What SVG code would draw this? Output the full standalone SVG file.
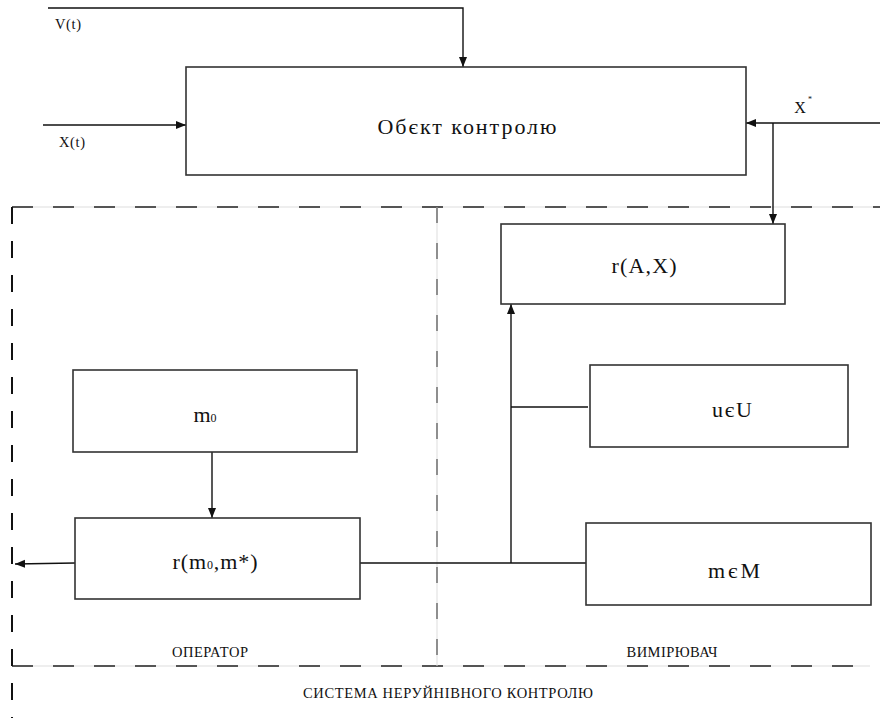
<svg xmlns="http://www.w3.org/2000/svg" width="880" height="718" viewBox="0 0 880 718">
<style>
.box{fill:#fff;stroke:#333;stroke-width:1.6}
.ln{fill:none;stroke:#111;stroke-width:1.4}
text{font-family:"Liberation Serif","Times New Roman","DejaVu Serif",serif;fill:#111;text-anchor:middle}
.big{font-size:22px}
.sm{font-size:14.5px}
.faint{stroke:#ddd;stroke-width:1;fill:none}
.dash{stroke:#555;stroke-width:2;stroke-dasharray:21 20;fill:none}
.vdash{stroke:#111;stroke-width:2;stroke-dasharray:17 17;fill:none}
.mid{stroke:#777;stroke-width:1.6;stroke-dasharray:16 20;fill:none}
</style>
<defs>
<marker id="ah" viewBox="0 0 10 10" refX="10" refY="5" markerWidth="10" markerHeight="10" markerUnits="userSpaceOnUse" orient="auto">
<path d="M0,1 L10,5 L0,9 z" fill="#111"/>
</marker>
</defs>
<rect width="880" height="718" fill="#fff"/>
<g id="frame">
<line class="faint" x1="12" y1="207" x2="880" y2="207"/>
<line class="dash" x1="12" y1="207" x2="880" y2="207"/>
<line class="faint" x1="12" y1="666" x2="870" y2="666"/>
<line class="dash" x1="12" y1="666" x2="870" y2="666"/>
<line class="vdash" x1="12" y1="207" x2="12" y2="718"/>
<line class="faint" x1="437" y1="207" x2="437" y2="666"/>
<line class="mid" x1="437" y1="207" x2="437" y2="666"/>
<text class="sm" x="210" y="657" textLength="76" lengthAdjust="spacing">ОПЕРАТОР</text>
<text class="sm" x="672" y="657" textLength="91" lengthAdjust="spacing">ВИМІРЮВАЧ</text>
<text class="sm" x="448" y="698" textLength="290" lengthAdjust="spacing">СИСТЕМА НЕРУЙНІВНОГО КОНТРОЛЮ</text>
</g>
<g id="connectors">
<polyline class="ln" points="48,8 463,8 463,67" marker-end="url(#ah)"/>
<line class="ln" x1="43" y1="125" x2="186" y2="125" marker-end="url(#ah)"/>
<line class="ln" x1="880" y1="123" x2="746" y2="123" marker-end="url(#ah)"/>
<line class="ln" x1="773" y1="123" x2="773" y2="224" marker-end="url(#ah)"/>
<line class="ln" x1="212" y1="452" x2="212" y2="518" marker-end="url(#ah)"/>
<line class="ln" x1="75" y1="563" x2="15" y2="564" marker-end="url(#ah)"/>
<line class="ln" x1="360" y1="563" x2="586" y2="563"/>
<line class="ln" x1="511" y1="563" x2="511" y2="304" marker-end="url(#ah)"/>
<line class="ln" x1="511" y1="407" x2="588" y2="407"/>
<text class="sm" x="68" y="29" textLength="26" lengthAdjust="spacing">V(t)</text>
<text class="sm" x="72" y="147" textLength="26" lengthAdjust="spacing">X(t)</text>
<text font-size="16" x="800" y="113">X</text>
<text font-size="8" x="810" y="102">*</text>
</g>
<g id="obj">
<rect class="box" x="186" y="67" width="560" height="108"/>
<text class="big" x="467" y="134" textLength="179" lengthAdjust="spacing">Обєкт контролю</text>
</g>
<g id="rax">
<rect class="box" x="501" y="224" width="284" height="80"/>
<text class="big" x="644" y="273" textLength="65" lengthAdjust="spacing">r(A,X)</text>
</g>
<g id="ueu">
<rect class="box" x="590" y="365" width="258" height="82"/>
<text class="big" x="732" y="417" textLength="40" lengthAdjust="spacing">uєU</text>
</g>
<g id="mem">
<rect class="box" x="586" y="523" width="285" height="82"/>
<text class="big" x="734" y="578" textLength="52" lengthAdjust="spacing">mєM</text>
</g>
<g id="m0">
<rect class="box" x="73" y="370" width="284" height="82"/>
<text class="big" x="205" y="422">m<tspan font-size="12">0</tspan></text>
</g>
<g id="rm">
<rect class="box" x="75" y="518" width="285" height="81"/>
<text class="big" x="215" y="569" textLength="85" lengthAdjust="spacing">r(m<tspan font-size="12">0</tspan>,m*)</text>
</g>
</svg>
